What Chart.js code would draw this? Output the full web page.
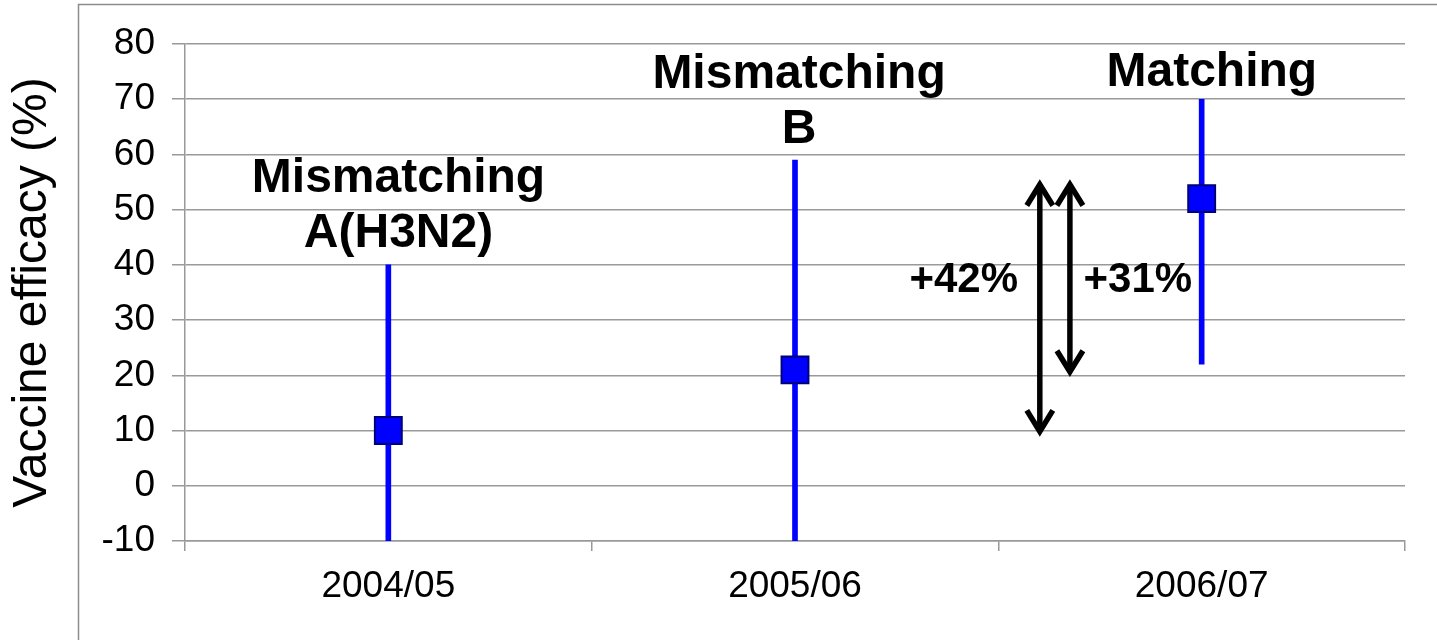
<!DOCTYPE html>
<html>
<head>
<meta charset="utf-8">
<script src="https://cdn.jsdelivr.net/npm/chart.js@4"></script>
<style>
  html, body { margin: 0; padding: 0; background: #fff; }
  #wrap { width: 1437px; height: 640px; }
</style>
</head>
<body>
<div id="wrap"><canvas id="efficacyChart"></canvas></div>
<script>
const seasons = ['2004/05', '2005/06', '2006/07'];
const efficacy = [10, 21, 52];
const ciLow = [-10, -10, 22];
const ciHigh = [40, 59, 70];
const yTicks = [-10, 0, 10, 20, 30, 40, 50, 60, 70, 80];

// text notes placed on the chart (x = category index, y = baseline value)
const noteText = ['Mismatching', 'A(H3N2)', 'Mismatching', 'B', 'Matching', '+42%', '+31%'];
const noteX = [0.025, 0.025, 1.01, 1.01, 2.025, 1.415, 1.843];
const noteY = [53.2, 43.2, 72.0, 62.1, 72.4, 35.1, 35.1];
const noteSize = [48, 48, 48, 48, 48, 42, 42];

// double arrows (x = category index, from/to values)
const arrowX = [1.602, 1.676];
const arrowFrom = [9.3, 20.1];
const arrowTo = [55.1, 55.1];

const GRID = '#999999';

const framePlugin = {
    id: 'frame',
    beforeDraw(chart) {
        const c = chart.ctx;
        c.save();
        c.fillStyle = '#fff';
        c.fillRect(0, 0, chart.width, chart.height);
        c.strokeStyle = '#8c8c8c';
        c.lineWidth = 1.5;
        c.strokeRect(78.5, 4.5, chart.width + 20, chart.height + 20);
        c.restore();
    }
};

const notesPlugin = {
    id: 'notes',
    afterDatasetsDraw(chart) {
        const c = chart.ctx;
        const x = chart.scales.x, y = chart.scales.y;
        c.save();
        // arrows
        c.strokeStyle = '#000';
        c.lineWidth = 5.5;
        c.lineCap = 'butt';
        c.lineJoin = 'miter';
        arrowX.forEach((ax, i) => {
            const px = x.getPixelForValue(ax);
            const top = y.getPixelForValue(arrowTo[i]);
            const bot = y.getPixelForValue(arrowFrom[i]);
            c.beginPath();
            c.moveTo(px, top + 3);
            c.lineTo(px, bot - 3);
            c.stroke();
            c.beginPath();
            c.moveTo(px - 13, top + 24);
            c.lineTo(px, top + 3);
            c.lineTo(px + 13, top + 24);
            c.stroke();
            c.beginPath();
            c.moveTo(px - 13, bot - 24);
            c.lineTo(px, bot - 3);
            c.lineTo(px + 13, bot - 24);
            c.stroke();
        });
        // text
        c.fillStyle = '#000';
        c.textAlign = 'center';
        c.textBaseline = 'alphabetic';
        noteText.forEach((t, i) => {
            c.font = 'bold ' + noteSize[i] + 'px "Liberation Sans", Arial, sans-serif';
            c.fillText(t, x.getPixelForValue(noteX[i]), y.getPixelForValue(noteY[i]));
        });
        c.restore();
    }
};

new Chart(document.getElementById('efficacyChart'), {
    data: {
        labels: seasons,
        datasets: [{
            type: 'line',
            label: 'Vaccine efficacy',
            data: efficacy,
            showLine: false,
            pointStyle: 'rect',
            pointRadius: 19,
            pointHoverRadius: 19,
            pointBackgroundColor: '#0000ff',
            pointBorderColor: '#00007a',
            pointBorderWidth: 2,
            order: 0
        }, {
            type: 'bar',
            label: '95% CI',
            data: seasons.map((s, i) => [ciLow[i], ciHigh[i]]),
            backgroundColor: '#0000ff',
            barThickness: 5,
            borderSkipped: false,
            order: 1
        }]
    },
    options: {
        responsive: true,
        maintainAspectRatio: false,
        animation: false,
        layout: { padding: { top: 44, right: 32, left: 0, bottom: 0 } },
        plugins: {
            legend: { display: false },
            tooltip: { enabled: false }
        },
        scales: {
            x: {
                type: 'category',
                offset: true,
                grid: {
                    offset: true,
                    drawOnChartArea: false,
                    drawTicks: true,
                    tickLength: 10,
                    color: GRID,
                    lineWidth: 1.5
                },
                border: { color: GRID, width: 1.5 },
                ticks: {
                    color: '#000',
                    padding: 14,
                    font: { family: '"Liberation Sans", Arial, sans-serif', size: 37 }
                },
                afterFit(scale) { scale.height = 99; }
            },
            y: {
                min: -10,
                max: 80,
                afterBuildTicks(scale) { scale.ticks = yTicks.map(v => ({ value: v })); },
                grid: {
                    color: GRID,
                    lineWidth: 1.5,
                    tickLength: 13
                },
                border: { color: GRID, width: 1.5 },
                ticks: {
                    color: '#000',
                    padding: 17,
                    font: { family: '"Liberation Sans", Arial, sans-serif', size: 37 }
                },
                title: {
                    display: true,
                    text: 'Vaccine efficacy (%)',
                    color: '#000',
                    padding: { top: 4, bottom: 0 },
                    font: { family: '"Liberation Sans", Arial, sans-serif', size: 48 }
                },
                afterFit(scale) { scale.width = 185; }
            }
        }
    },
    plugins: [framePlugin, notesPlugin]
});
</script>
</body>
</html>
